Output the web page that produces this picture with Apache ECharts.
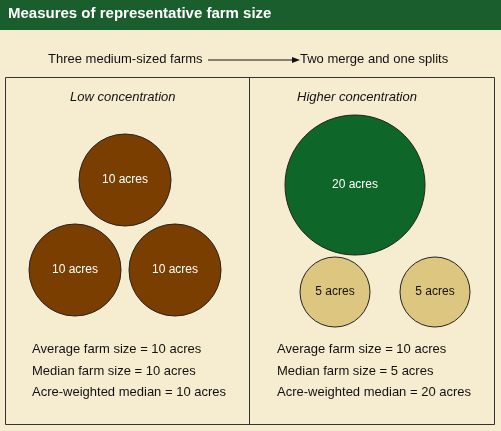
<![CDATA[<!DOCTYPE html><html><head><meta charset="utf-8">
<script src="https://cdn.jsdelivr.net/npm/echarts@6/dist/echarts.min.js"></script>
<style>html,body{margin:0;padding:0;background:#f6ecd0}#c{width:501px;height:431px}</style></head><body><div id="c"></div>
<script>
const title = "Measures of representative farm size";
const panels = ["Low concentration", "Higher concentration"];
const lowFarms = [[125,180,10],[75,270,10],[175,270,10]];
const highFarms = [[355,185,20],[335,292,5],[435,292,5]];
const lowStats = ["Average farm size = 10 acres","Median farm size = 10 acres","Acre-weighted median = 10 acres"];
const highStats = ["Average farm size = 10 acres","Median farm size = 5 acres","Acre-weighted median = 20 acres"];
const sizeOf = {5:70, 10:92, 20:140};
const colorOf = {5:'#dcc680', 10:'#7a3f00', 20:'#0e6629'};
const F = 'Arial, "Liberation Sans", sans-serif';
const chart = echarts.init(document.getElementById('c'));
function statTexts(arr, x){return arr.map((t,i)=>({type:'text',left:x,top:343+i*21.5,style:{text:t,font:'13px '+F,fill:'#111'}}));}
chart.setOption({
 animation:false,
 grid:{left:0,right:0,top:0,bottom:0},
 xAxis:{type:'value',min:0,max:501,show:false},
 yAxis:{type:'value',min:0,max:431,inverse:true,show:false},
 graphic:[
  {type:'rect',shape:{x:0,y:0,width:501,height:30},style:{fill:'#1b5e2e'}},
  {type:'text',left:8,top:6,style:{text:title,font:'bold 15px '+F,fill:'#fff'}},
  {type:'text',left:48,top:53,style:{text:'Three medium-sized farms',font:'13px '+F,fill:'#111'}},
  {type:'line',shape:{x1:208,y1:60,x2:294,y2:60},style:{stroke:'#111',lineWidth:1}},
  {type:'polygon',shape:{points:[[300,60],[292,57],[292,63]]},style:{fill:'#111'}},
  {type:'text',left:300,top:53,style:{text:'Two merge and one splits',font:'13px '+F,fill:'#111'}},
  {type:'rect',shape:{x:5.5,y:77.5,width:489,height:347},style:{fill:'none',stroke:'#333',lineWidth:1}},
  {type:'line',shape:{x1:249.5,y1:77.5,x2:249.5,y2:424.5},style:{stroke:'#333',lineWidth:1}},
  {type:'text',left:70,top:91,style:{text:panels[0],font:'italic 13px '+F,fill:'#111'}},
  {type:'text',left:297,top:91,style:{text:panels[1],font:'italic 13px '+F,fill:'#111'}},
  ...statTexts(lowStats,32),...statTexts(highStats,277)
 ],
 series:[lowFarms,highFarms].map(d=>({
  type:'scatter',data:d,
  symbolSize:v=>sizeOf[v[2]],
  itemStyle:{color:p=>colorOf[p.data[2]],borderColor:'#222',borderWidth:1,opacity:1},
  label:{show:true,position:'inside',
   formatter:p=>'{'+(p.data[2]===5?'d':'w')+'|'+p.data[2]+' acres}',
   rich:{d:{color:'#111',fontSize:12,fontFamily:F},w:{color:'#fff',fontSize:12,fontFamily:F}}},
  emphasis:{disabled:true}
 }))
});
</script></body></html>]]>
